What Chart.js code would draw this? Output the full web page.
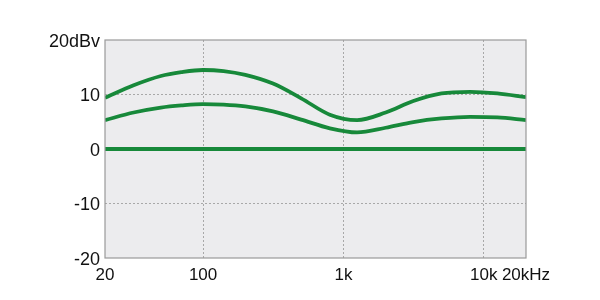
<!DOCTYPE html>
<html>
<head>
<meta charset="utf-8">
<script src="https://cdn.jsdelivr.net/npm/chart.js@4"></script>
<style>
  html, body { margin: 0; padding: 0; background: #fff; }
  #wrap { width: 600px; height: 300px; }
</style>
</head>
<body>
<div id="wrap"><canvas id="chart"></canvas></div>
<script>
// frequency points (Hz) and the three response curves (dBV)
const freqs = [20, 32, 50, 70, 100, 140, 200, 315, 500, 800, 1250, 2000, 3150, 5000, 8000, 12500, 20000];
const upper = [9.4, 11.7, 13.4, 14.1, 14.5, 14.3, 13.6, 12.0, 9.3, 6.3, 5.3, 6.7, 8.8, 10.2, 10.5, 10.2, 9.5];
const lower = [5.3, 6.7, 7.6, 8.0, 8.25, 8.15, 7.8, 6.9, 5.4, 3.8, 3.05, 3.9, 4.95, 5.6, 5.9, 5.8, 5.3];
const flat = [0, 0];
const flatFreqs = [20, 20000];

const xTicks = [20, 100, 1000, 10000, 20000];
const xLabels = ['20', '100', '1k', '10k', '20kHz'];
const yTicks = [-20, -10, 0, 10, 20];
const yLabels = ['-20', '-10', '0', '10', '20dBv'];

const green = '#17893a';

const pts = (xs, ys) => xs.map((x, i) => ({ x, y: ys[i] }));

const plotFrame = {
  id: 'plotFrame',
  beforeDraw(chart) {
    const { ctx, chartArea: a } = chart;
    ctx.save();
    ctx.fillStyle = '#ececee';
    ctx.fillRect(a.left, a.top, a.right - a.left, a.bottom - a.top);
    ctx.restore();
  },
  afterDatasetsDraw(chart) {
    const { ctx, chartArea: a } = chart;
    ctx.save();
    ctx.strokeStyle = '#9a9a9a';
    ctx.lineWidth = 1.2;
    ctx.strokeRect(a.left, a.top, a.right - a.left, a.bottom - a.top);
    ctx.restore();
  }
};

const edgeHidden = (ctx) => {
  const v = ctx.tick && ctx.tick.value;
  return (v === 20 || v === 20000 || v === -20) ? 'transparent' : '#a8a8a8';
};

new Chart(document.getElementById('chart'), {
  type: 'line',
  data: {
    datasets: [
      { data: pts(freqs, upper) },
      { data: pts(freqs, lower) },
      { data: pts(flatFreqs, flat) },
    ],
  },
  options: {
    responsive: true,
    maintainAspectRatio: false,
    animation: false,
    events: [],
    layout: { padding: { left: 0, right: 74, top: 40, bottom: 0 } },
    elements: {
      point: { radius: 0 },
      line: { borderColor: green, borderWidth: 3.8, cubicInterpolationMode: 'monotone', fill: false },
    },
    plugins: { legend: { display: false }, tooltip: { enabled: false } },
    scales: {
      x: {
        type: 'logarithmic',
        min: 20,
        max: 20000,
        afterBuildTicks: (scale) => { scale.ticks = xTicks.map((v) => ({ value: v })); },
        afterFit: (scale) => { scale.height = 42; },
        ticks: {
          autoSkip: false,
          maxRotation: 0,
          padding: 7,
          color: '#111',
          font: { family: 'Liberation Sans, Arial, sans-serif', size: 17 },
          callback: (v) => xLabels[xTicks.indexOf(v)],
        },
        grid: { color: edgeHidden, lineWidth: 1, drawTicks: false },
        border: { display: false, dash: [2, 2] },
      },
      y: {
        min: -20,
        max: 20,
        afterBuildTicks: (scale) => { scale.ticks = yTicks.map((v) => ({ value: v })); },
        afterFit: (scale) => { scale.width = 105; },
        ticks: {
          padding: 5,
          labelOffset: 2,
          color: '#111',
          font: { family: 'Liberation Sans, Arial, sans-serif', size: 18 },
          callback: (v) => yLabels[yTicks.indexOf(v)],
        },
        grid: { color: edgeHidden, lineWidth: 1, drawTicks: false },
        border: { display: false, dash: [2, 2] },
      },
    },
  },
  plugins: [plotFrame],
});
</script>
</body>
</html>
